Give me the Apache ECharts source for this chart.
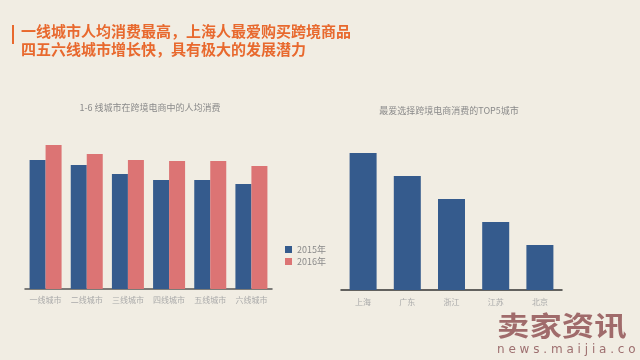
<!DOCTYPE html>
<html><head><meta charset="utf-8">
<script src="https://cdn.jsdelivr.net/npm/echarts@6/dist/echarts.min.js"></script>
<style>html,body{margin:0;padding:0;background:#f1ede3;}#c{width:640px;height:360px;}</style>
</head><body><div id="c"></div>
<script>
var tierCities = ['一线城市','二线城市','三线城市','四线城市','五线城市','六线城市'];
var spend2015 = [129, 124, 115, 109, 109, 105];
var spend2016 = [144, 135, 129, 128, 128, 123];
var topCities = ['上海','广东','浙江','江苏','北京'];
var topValues = [137, 114, 91, 68, 45];
var headline1 = '一线城市人均消费最高，上海人最爱购买跨境商品';
var headline2 = '四五六线城市增长快，具有极大的发展潜力';
var leftTitle = '1-6 线城市在跨境电商中的人均消费';
var rightTitle = '最爱选择跨境电商消费的TOP5城市';

var font = '"Noto Sans CJK SC", "Noto Sans", sans-serif';
var chart = echarts.init(document.getElementById('c'));
chart.setOption({
  backgroundColor: '#f1ede3',
  animation: false,
  textStyle: {fontFamily: font},
  title: [
    {text: leftTitle, left: 145, top: 98, textAlign: 'center',
     textStyle: {fontSize: 9, fontWeight: 'normal', color: '#8a8a8a', fontFamily: font}},
    {text: rightTitle, left: 444, top: 101, textAlign: 'center',
     textStyle: {fontSize: 9, fontWeight: 'normal', color: '#8a8a8a', fontFamily: font}}
  ],
  legend: {
    data: ['2015年','2016年'], orient: 'vertical', left: 280, top: 240,
    itemWidth: 7, itemHeight: 7, itemGap: 3, icon: 'rect',
    textStyle: {fontSize: 9, color: '#8a8a8a', fontFamily: font}
  },
  grid: [
    {left: 25, right: 368, top: 139, bottom: 71},
    {left: 341, right: 78, top: 140, bottom: 70}
  ],
  xAxis: [
    {gridIndex: 0, type: 'category', data: tierCities,
     axisLine: {lineStyle: {color: '#555', width: 1.5}}, axisTick: {show: false},
     axisLabel: {fontSize: 8, color: '#aaaaaa', margin: 7, interval: 0}},
    {gridIndex: 1, type: 'category', data: topCities,
     axisLine: {lineStyle: {color: '#333', width: 1.5}}, axisTick: {show: false},
     axisLabel: {fontSize: 8, color: '#aaaaaa', margin: 8, interval: 0}}
  ],
  yAxis: [
    {gridIndex: 0, type: 'value', min: 0, max: 150, show: false},
    {gridIndex: 1, type: 'value', min: 0, max: 150, show: false}
  ],
  series: [
    {name: '2015年', type: 'bar', xAxisIndex: 0, yAxisIndex: 0, data: spend2015,
     barWidth: 16, barGap: '0%', itemStyle: {color: '#355b8d'}},
    {name: '2016年', type: 'bar', xAxisIndex: 0, yAxisIndex: 0, data: spend2016,
     barWidth: 16, barGap: '0%', itemStyle: {color: '#dc7474'}},
    {name: 'TOP5', type: 'bar', xAxisIndex: 1, yAxisIndex: 1, data: topValues,
     barWidth: 27, itemStyle: {color: '#355b8d'}}
  ],
  graphic: [
    {type: 'rect', shape: {x: 12, y: 25, width: 2, height: 19}, style: {fill: '#e8692e'}},
    {type: 'text', left: 21, top: 24, style: {text: headline1, fill: '#e8692e', font: 'bold 15px ' + font}},
    {type: 'text', left: 21, top: 42, style: {text: headline2, fill: '#e8692e', font: 'bold 15px ' + font}},
    {type: 'text', x: 497, y: 312, scaleX: 1.2, style: {text: '卖家资讯', fill: '#a06b6b', font: 'bold 27px ' + font}},
    {type: 'text', left: 497, top: 344, style: {text: 'n e w s . m a i j i a . c o m', fill: '#9e7070', font: '12px "DejaVu Sans", sans-serif'}}
  ]
});
</script></body></html>
